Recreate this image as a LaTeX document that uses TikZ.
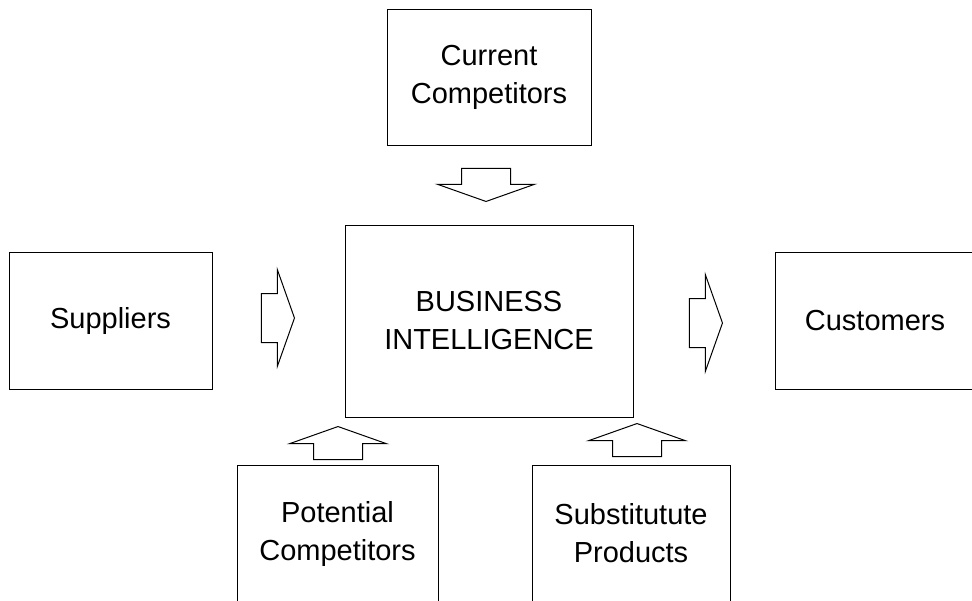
\documentclass[tikz,border=0pt]{standalone}
\usepackage{fontspec}
\setmainfont{Liberation Sans}
\usetikzlibrary{positioning, shapes.arrows}

\tikzset{
  factor/.style={draw, line width=0.5pt, align=center, inner sep=0pt,
    minimum width=100pt, minimum height=68.5pt,
    font=\fontsize{14.5}{19}\selectfont},
  flow/.style={draw, line width=0.5pt, single arrow, anchor=tip,
    inner xsep=0pt, inner ysep=12pt, minimum height=16.5pt, minimum width=48pt,
    single arrow head extend=12pt, single arrow tip angle=141},
  flow up/.style={flow, shape border rotate=90, inner xsep=12pt, inner ysep=0pt},
  flow down/.style={flow up, shape border rotate=270}
}

\begin{document}
\begin{tikzpicture}[x=0.5pt, y=-0.5pt, on grid]
  \useasboundingbox (0,0) rectangle (972,600);
  \clip (0,0) rectangle (972,600);

  % the five forces round the centre box
  \node[factor, minimum width=144pt, minimum height=96pt] (bi) at (489,321) {BUSINESS\\INTELLIGENCE};
  \node[factor, minimum width=102pt, minimum height=68pt] (current) [above=122pt of bi] {Current\\Competitors};
  \node[factor, minimum width=101.5pt] (suppliers) [left=189.25pt of bi] {Suppliers};
  \node[factor] (customers) [right=193pt of bi] {Customers};
  \node[factor, minimum width=100.5pt] (potential) [below left=106.25pt and 75.75pt of bi] {Potential\\Competitors};
  \node[factor, minimum width=99pt] (substitute) [below right=106.25pt and 71pt of bi] {Substitutute\\Products};

  % block arrows, placed by their tips
  \node[flow down] (current-in) at (486,202) {};
  \node[flow] (suppliers-in) at (295,318) {};
  \node[flow] (customers-out) at (723,323) {};
  \node[flow up] (potential-in) at (338,426) {};
  \node[flow up] (substitute-in) at (637,423) {};
\end{tikzpicture}
\end{document}
